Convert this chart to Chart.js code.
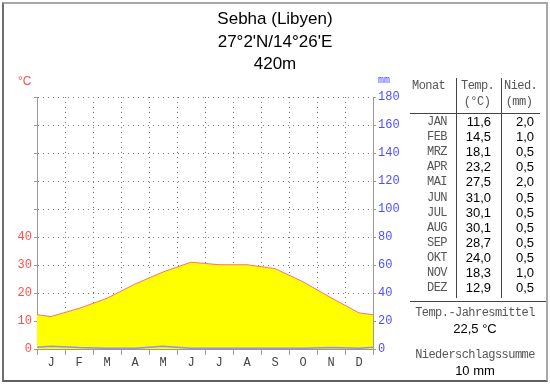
<!DOCTYPE html>
<html>
<head>
<meta charset="utf-8">
<script src="https://cdn.jsdelivr.net/npm/chart.js@4/dist/chart.umd.min.js"></script>
<style>
  body { margin: 0; background: #fff; }
  #wrap { position: relative; width: 550px; height: 384px; overflow: hidden; background: #fff; }
  #chart { position: absolute; left: 0; top: 0; }
  .t { position: absolute; white-space: pre; line-height: 14px; }
  .mono { font-family: "Courier New", "Liberation Mono", monospace; color: #555; font-size: 12px; letter-spacing: -0.55px; }
  .sans { font-family: Arial, "Liberation Sans", sans-serif; color: #000; font-size: 13px; }
  .ln { position: absolute; background: #444; }
  #frame { position: absolute; left: 2px; top: 2px; width: 546px; height: 380px; box-sizing: border-box;
           border-left: 2px solid #707070; border-top: 2px solid #a8a8a8;
           border-right: 2px solid #a8a8a8; border-bottom: 2px solid #606060; pointer-events: none; }
</style>
</head>
<body>
<div id="wrap">
  <canvas id="chart" width="550" height="384"></canvas>
  <div id="overlay"></div>
  <div id="frame"></div>
</div>
<script>
var titleLines = ["Sebha (Libyen)", "27°2'N/14°26'E", "420m"];
var months = ["J", "F", "M", "A", "M", "J", "J", "A", "S", "O", "N", "D"];
var monthNames = ["JAN", "FEB", "MRZ", "APR", "MAI", "JUN", "JUL", "AUG", "SEP", "OKT", "NOV", "DEZ"];
var temps = [11.6, 14.5, 18.1, 23.2, 27.5, 31.0, 30.1, 30.1, 28.7, 24.0, 18.3, 12.9];
var precip = [2.0, 1.0, 0.5, 0.5, 2.0, 0.5, 0.5, 0.5, 0.5, 0.5, 1.0, 0.5];

// month-centre points, with Dec/Jan repeated outside the area so the curve wraps round
function monthPoints(vals) {
    var pts = [{x: -0.5, y: vals[11]}];
    for (var i = 0; i < vals.length; i++) {
        pts.push({x: i + 0.5, y: vals[i]});
    }
    pts.push({x: 12.5, y: vals[0]});
    return pts;
}

var tickFont = {family: "'Courier New', 'Liberation Mono', monospace", size: 12};
var gridGray = "#7a7a7a";
var axisGray = "#9a9a9a";

var ctx = document.getElementById("chart").getContext("2d");
var myChart = new Chart(ctx, {
    type: "line",
    data: {
        datasets: [
            {
                label: "Niederschlag",
                data: monthPoints(precip),
                yAxisID: "yP",
                borderColor: "#8f8fff",
                borderWidth: 1.5,
                pointRadius: 0,
                fill: false,
                clip: 0,
                order: 1
            },
            {
                label: "Temperatur",
                data: monthPoints(temps),
                yAxisID: "yT",
                borderColor: "#ff7070",
                borderWidth: 1,
                backgroundColor: "#ffff00",
                pointRadius: 0,
                fill: "origin",
                clip: 0,
                order: 2
            }
        ]
    },
    options: {
        responsive: false,
        animation: false,
        layout: {
            padding: {top: 97, left: 0, right: 0, bottom: 0}
        },
        plugins: {
            legend: {display: false},
            title: {display: false},
            tooltip: {enabled: false}
        },
        scales: {
            x: {
                type: "linear",
                min: 0,
                max: 12,
                z: 1,
                afterFit: function (scale) { scale.height = 35; },
                ticks: {
                    stepSize: 0.5,
                    autoSkip: false,
                    maxRotation: 0,
                    padding: 1,
                    color: "#444",
                    font: {family: "'Courier New', 'Liberation Mono', monospace", size: 12},
                    callback: function (v) {
                        return (v % 1 === 0.5) ? months[Math.floor(v)] : "";
                    }
                },
                grid: {
                    color: function (c) { return c.tick && c.tick.value % 1 === 0 ? gridGray : "rgba(0,0,0,0)"; },
                    tickColor: function (c) { return c.tick && c.tick.value % 1 === 0 ? axisGray : "rgba(0,0,0,0)"; },
                    tickLength: 6
                },
                border: {color: axisGray, dash: [1, 4]}
            },
            yT: {
                type: "linear",
                position: "left",
                min: 0,
                max: 90,
                z: 1,
                afterFit: function (scale) { scale.width = 37; },
                ticks: {
                    stepSize: 10,
                    padding: 2,
                    color: "#ff4d4d",
                    font: tickFont,
                    callback: function (v) { return v <= 40 ? v : ""; }
                },
                grid: {
                    color: gridGray,
                    tickColor: axisGray,
                    tickLength: 3
                },
                border: {color: axisGray, dash: [1, 4]}
            },
            yP: {
                type: "linear",
                position: "right",
                min: 0,
                max: 180,
                z: 1,
                afterFit: function (scale) { scale.width = 177; },
                ticks: {
                    stepSize: 20,
                    padding: 2,
                    color: "#4d4dff",
                    font: tickFont
                },
                grid: {
                    drawOnChartArea: false,
                    tickColor: axisGray,
                    tickLength: 3
                },
                border: {color: axisGray}
            }
        }
    }
});

// text overlay: title, units, table
var overlay = document.getElementById("overlay");
function addText(txt, x, y, cls, align, extra) {
    var d = document.createElement("div");
    d.className = "t " + cls;
    d.textContent = txt;
    d.style.top = (y - 7) + "px";
    if (align === "right") {
        d.style.right = (550 - x) + "px";
    } else if (align === "center") {
        d.style.left = (x - 100) + "px";
        d.style.width = "200px";
        d.style.textAlign = "center";
    } else {
        d.style.left = x + "px";
    }
    if (extra) {
        for (var k in extra) d.style[k] = extra[k];
    }
    overlay.appendChild(d);
}
function addLine(x, y, w, h) {
    var d = document.createElement("div");
    d.className = "ln";
    d.style.left = x + "px";
    d.style.top = y + "px";
    d.style.width = w + "px";
    d.style.height = h + "px";
    overlay.appendChild(d);
}
function fmt(v) { return v.toFixed(1).replace(".", ","); }

for (var i = 0; i < titleLines.length; i++) {
    addText(titleLines[i], 275, 19 + i * 22.5, "sans", "center", {fontSize: "17px", lineHeight: "14px"});
}
addText("°C", 18, 81, "sans", "left", {color: "#ff4d4d", fontSize: "12px"});
addText("mm", 378, 81, "mono", "left", {color: "#4d4dff", fontSize: "10px", letterSpacing: "0"});

addText("Monat", 412, 86, "mono", "left");
addText("Temp.", 461, 86, "mono", "left");
addText("(°C)", 477, 102, "mono", "center");
addText("Nied.", 504, 86, "mono", "left");
addText("(mm)", 519, 102, "mono", "center");
addLine(456, 78, 1, 220);
addLine(501, 78, 1, 220);
addLine(410, 113, 130, 1);

for (var i = 0; i < monthNames.length; i++) {
    var y = 122 + i * 15.1;
    addText(monthNames[i], 447, y, "mono", "right");
    addText(fmt(temps[i]), 491, y, "sans", "right");
    addText(fmt(precip[i]), 534, y, "sans", "right");
}
addLine(410, 301, 137, 1);

var tSum = 0, pSum = 0;
for (var i = 0; i < temps.length; i++) { tSum += temps[i]; pSum += precip[i]; }
addText("Temp.-Jahresmittel", 475, 313, "mono", "center");
addText(fmt(tSum / temps.length) + " °C", 475, 329, "sans", "center");
addText("Niederschlagssumme", 475, 355, "mono", "center");
addText(Math.round(pSum) + " mm", 475, 371, "sans", "center");
</script>
</body>
</html>
